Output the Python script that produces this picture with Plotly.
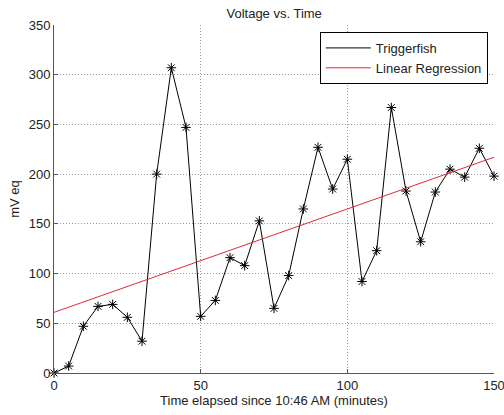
import plotly.graph_objects as go

time_min = [0, 5, 10, 15, 20, 25, 30, 35, 40, 45, 50, 55, 60, 65, 70, 75, 80, 85, 90, 95,
            100, 105, 110, 115, 120, 125, 130, 135, 140, 145, 150]
voltage = [0, 7, 47, 67, 69, 56, 32, 200, 307, 247, 57, 73, 116, 108, 153, 65, 98, 165, 227, 185,
           215, 92, 123, 267, 183, 132, 182, 205, 197, 226, 198]
reg_x = [0, 150]
reg_y = [61, 217]

x_ticks = [0, 50, 100, 150]
y_ticks = [0, 50, 100, 150, 200, 250, 300, 350]

font = "Liberation Sans, Arial, sans-serif"
red = "#dd2b36"

fig = go.Figure()
fig.add_trace(go.Scatter(
    x=time_min, y=voltage, mode="lines+markers", name="Triggerfish", showlegend=False,
    line=dict(color="black", width=1), cliponaxis=False,
    marker=dict(symbol="asterisk-open", size=8, color="black", line=dict(color="black", width=1)),
))
fig.add_trace(go.Scatter(
    x=reg_x, y=reg_y, mode="lines", name="Linear Regression", showlegend=False,
    line=dict(color=red, width=1),
))
# legend entries (line only, as in the reference)
fig.add_trace(go.Scatter(x=[None], y=[None], mode="lines", name="Triggerfish",
                         line=dict(color="black", width=1)))
fig.add_trace(go.Scatter(x=[None], y=[None], mode="lines", name="Linear Regression",
                         line=dict(color=red, width=1)))

axis_common = dict(
    showline=True, linecolor="#555555", linewidth=1, mirror=False,
    ticks="inside", ticklen=4, tickcolor="#555555",
    showgrid=True, gridcolor="#9a9a9a", griddash="1px,2px", gridwidth=1,
    zeroline=False, automargin=False, ticklabeloverflow="allow",
    tickfont=dict(size=13, color="#222222", family=font),
)

fig.update_layout(
    width=504, height=415,
    margin=dict(l=54, r=10, t=25, b=42),
    paper_bgcolor="white", plot_bgcolor="white",
    font=dict(family=font, size=13, color="#222222"),
    title=dict(text="Voltage vs. Time", x=0.544, xanchor="center", y=0.968, yanchor="middle",
               font=dict(size=13, family=font)),
    xaxis=dict(range=[0, 150], tickvals=x_ticks,
               title=dict(text="Time elapsed since 10:46 AM (minutes)", standoff=4,
                          font=dict(size=13, family=font)),
               **axis_common),
    yaxis=dict(range=[0, 350], tickvals=y_ticks,
               title=dict(text="mV eq", standoff=6, font=dict(size=13, family=font)),
               **axis_common),
    legend=dict(x=0.986, y=0.98, xanchor="right", yanchor="top",
                bordercolor="black", borderwidth=1, bgcolor="white", itemwidth=45,
                font=dict(size=13, family=font), tracegroupgap=0),
    showlegend=True,
)

fig.write_html("out.html", config={"displayModeBar": False},
               post_script="document.body.style.margin='0';")
